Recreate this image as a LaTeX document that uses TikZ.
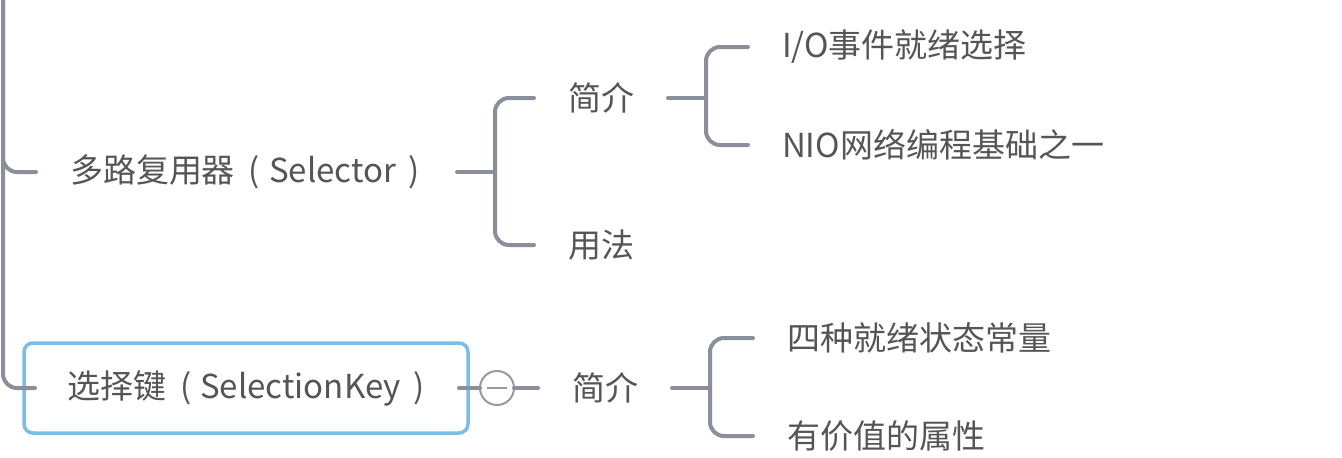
\documentclass[tikz,border=0pt]{standalone}
\usepackage{fontspec}
\newfontfamily\cjk{Noto Sans CJK SC}
\definecolor{conngray}{HTML}{8A8F9B}
\definecolor{txtgray}{HTML}{555555}
\definecolor{keyblue}{HTML}{7ABDE8}
\definecolor{circgray}{HTML}{9A9A9A}
\newcommand{\lpar}{\hspace{14pt}(\hspace{9pt}}
\newcommand{\rpar}{\hspace{13pt})}
\begin{document}
\begin{tikzpicture}[x=1pt,y=-1pt,
  txt/.style={font=\cjk\fontsize{33}{36}\selectfont, text=txtgray, inner xsep=34, inner ysep=4, outer sep=0, anchor=west},
  keybox/.style={txt, draw=keyblue, line width=3.5, rounded corners=9, inner xsep=0, minimum width=444, minimum height=90},
  conn/.style={draw=conngray, line width=4, line cap=round, rounded corners=14},
  foldmark/.style={circle, draw=circgray, line width=2, minimum size=34, inner sep=0, outer sep=0}]
\fill[white] (0,0) rectangle (1342,458);
\useasboundingbox (0,0) rectangle (1342,458);
% nodes
\node[txt] (sel) at (36,172) {多路复用器\lpar Selector\rpar};
\node[txt] (sintro) at (534,98) {简介};
\node[txt] (susage) at (534,245) {用法};
\node[txt] (sio) at (748,47) {I/O事件就绪选择};
\node[txt] (snio) at (748,145) {NIO网络编程基础之一};
\node[keybox] (key) at (24,388) {选择键\lpar SelectionKey\rpar};
\node[foldmark] (fold) at (497,388) {};
\draw[circgray, line width=2] ([xshift=-10]fold.center) -- ([xshift=10]fold.center);
\node[txt] (kintro) at (538,388) {简介};
\node[txt] (kfour) at (753,338) {四种就绪状态常量};
\node[txt] (kval) at (753,436) {有价值的属性};
% root connectors
\coordinate (root) at (3,-10);
\draw[conn] (root) |- (sel.west);
\draw[conn] (root) |- ([xshift=11]key.west);
% selector
\draw[conn] ([xshift=421]sel.west) -- ++(38,0) coordinate (b1);
\draw[conn] (sintro.west) -| (b1) |- (susage.west);
\draw[conn] (sintro.east) -- ++(38,0) coordinate (b2);
\draw[conn] (sio.west) -| (b2) |- (snio.west);
% selection key
\draw[conn] ([xshift=-9]key.east) -- (fold.west);
\draw[conn] (fold.east) -- (kintro.west);
\draw[conn] (kintro.east) -- ++(38,0) coordinate (b3);
\draw[conn] (kfour.west) -| (b3) |- (kval.west);
\end{tikzpicture}
\end{document}
